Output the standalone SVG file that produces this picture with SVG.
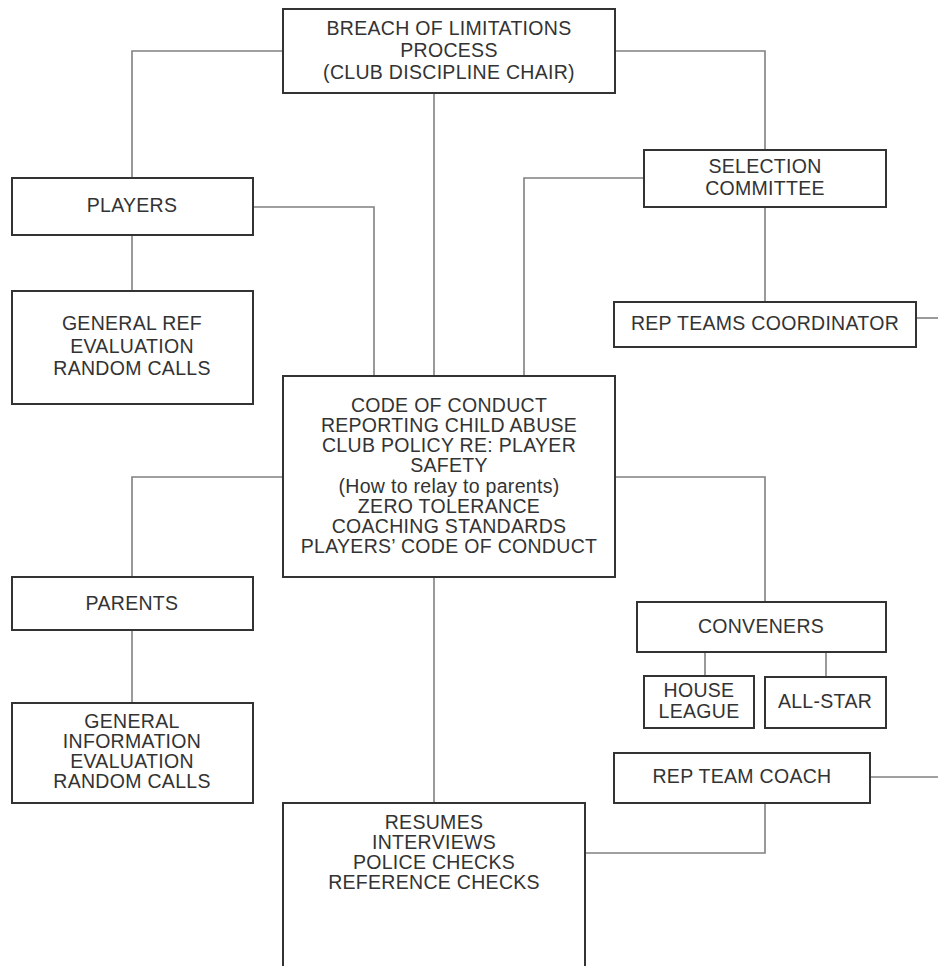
<svg xmlns="http://www.w3.org/2000/svg" width="938" height="966" viewBox="0 0 938 966">
<style>
.box{fill:#fff;stroke:#333;stroke-width:2}
.t{font-family:"Liberation Sans",Arial,sans-serif;font-size:19.5px;letter-spacing:0.3px;fill:#333;text-anchor:middle}
.c{fill:none;stroke:#808080;stroke-width:1.6}
</style>
<rect width="938" height="966" fill="#fff"/>
<g id="connectors">
<path class="c" d="M283,51 H132 V178"/>
<path class="c" d="M615,51 H765 V150"/>
<path class="c" d="M434,93 V376"/>
<path class="c" d="M253,207 H374 V376"/>
<path class="c" d="M132,235 V291"/>
<path class="c" d="M644,178 H524 V376"/>
<path class="c" d="M765,207 V302"/>
<path class="c" d="M916,318 H938"/>
<path class="c" d="M283,477 H132 V577"/>
<path class="c" d="M615,477 H765 V602"/>
<path class="c" d="M132,630 V703"/>
<path class="c" d="M705,652 V676"/>
<path class="c" d="M826,652 V677"/>
<path class="c" d="M434,577 V803"/>
<path class="c" d="M870,777 H938"/>
<path class="c" d="M765,803 V853 H585"/>
</g>
<g id="breach">
<rect class="box" x="283" y="9" width="332" height="84"/>
<text class="t" x="449" y="35">BREACH OF LIMITATIONS</text>
<text class="t" x="449" y="57">PROCESS</text>
<text class="t" x="449" y="79">(CLUB DISCIPLINE CHAIR)</text>
</g>
<g id="players">
<rect class="box" x="12" y="178" width="241" height="57"/>
<text class="t" x="132" y="212">PLAYERS</text>
</g>
<g id="general-ref">
<rect class="box" x="12" y="291" width="241" height="113"/>
<text class="t" x="132" y="330">GENERAL REF</text>
<text class="t" x="132" y="353">EVALUATION</text>
<text class="t" x="132" y="375">RANDOM CALLS</text>
</g>
<g id="selection">
<rect class="box" x="644" y="150" width="242" height="57"/>
<text class="t" x="765" y="173">SELECTION</text>
<text class="t" x="765" y="195">COMMITTEE</text>
</g>
<g id="rep-coordinator">
<rect class="box" x="614" y="302" width="302" height="45"/>
<text class="t" x="765" y="330">REP TEAMS COORDINATOR</text>
</g>
<g id="code">
<rect class="box" x="283" y="376" width="332" height="201"/>
<text class="t" x="449" y="412">CODE OF CONDUCT</text>
<text class="t" x="449" y="432">REPORTING CHILD ABUSE</text>
<text class="t" x="449" y="452">CLUB POLICY RE: PLAYER</text>
<text class="t" x="449" y="472">SAFETY</text>
<text class="t" x="449" y="493">(How to relay to parents)</text>
<text class="t" x="449" y="513">ZERO TOLERANCE</text>
<text class="t" x="449" y="533">COACHING STANDARDS</text>
<text class="t" x="449" y="553">PLAYERS’ CODE OF CONDUCT</text>
</g>
<g id="parents">
<rect class="box" x="12" y="577" width="241" height="53"/>
<text class="t" x="132" y="610">PARENTS</text>
</g>
<g id="general-info">
<rect class="box" x="12" y="703" width="241" height="100"/>
<text class="t" x="132" y="728">GENERAL</text>
<text class="t" x="132" y="748">INFORMATION</text>
<text class="t" x="132" y="768">EVALUATION</text>
<text class="t" x="132" y="788">RANDOM CALLS</text>
</g>
<g id="conveners">
<rect class="box" x="637" y="602" width="249" height="50"/>
<text class="t" x="761" y="633">CONVENERS</text>
</g>
<g id="house-league">
<rect class="box" x="644" y="676" width="110" height="52"/>
<text class="t" x="699" y="697">HOUSE</text>
<text class="t" x="699" y="718">LEAGUE</text>
</g>
<g id="all-star">
<rect class="box" x="765" y="677" width="121" height="51"/>
<text class="t" x="825" y="708">ALL-STAR</text>
</g>
<g id="rep-coach">
<rect class="box" x="614" y="753" width="256" height="50"/>
<text class="t" x="742" y="783">REP TEAM COACH</text>
</g>
<g id="resumes">
<rect class="box" x="283" y="803" width="302" height="175"/>
<text class="t" x="434" y="829">RESUMES</text>
<text class="t" x="434" y="849">INTERVIEWS</text>
<text class="t" x="434" y="869">POLICE CHECKS</text>
<text class="t" x="434" y="889">REFERENCE CHECKS</text>
</g>
</svg>
